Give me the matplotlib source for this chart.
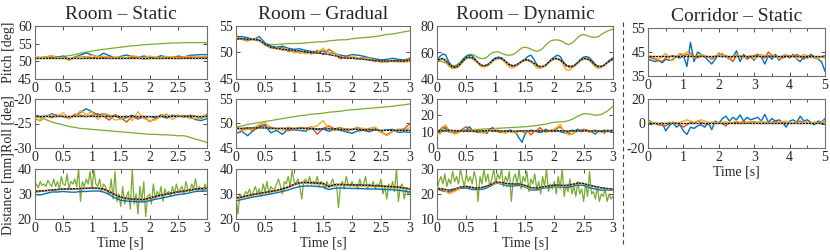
import matplotlib
matplotlib.use("Agg")
import matplotlib.pyplot as plt
from matplotlib.lines import Line2D
import numpy as np

plt.rcParams['font.family'] = ['Liberation Serif', 'DejaVu Serif']
plt.rcParams['font.size'] = 10
plt.rcParams['axes.unicode_minus'] = False

BLUE = '#0072BD'
RED = '#D95319'
ORANGE = '#EDB120'
GREEN = '#77AC30'

titles = ['Room – Static', 'Room – Gradual', 'Room – Dynamic', 'Corridor – Static']
ylabels = ['Pitch [deg]', 'Roll [deg]', 'Distance [mm]']

# ---------------- Room - Static ----------------
rs_pitch_truth = [51.0] * 31
rs_pitch_blue = [51.2, 51.0, 51.3, 51.5, 51.2, 51.5, 50.6, 51.2, 51.8, 52.4, 51.8, 51.3, 52.3, 51.6, 51.0, 51.4,
                 51.8, 51.3, 51.1, 51.5, 51.2, 51.0, 51.6, 51.2, 51.0, 51.5, 51.2, 51.7, 51.8, 51.9, 51.9]
rs_pitch_red = [51.0, 51.1, 51.0, 51.2, 51.1, 51.0, 50.5, 51.0, 51.4, 51.2, 51.0, 51.3, 51.1, 51.2, 51.0, 50.8,
                51.0, 51.2, 51.0, 50.7, 50.8, 51.0, 51.1, 50.9, 51.2, 51.3, 51.1, 51.0, 51.2, 51.0, 51.1]
rs_pitch_orange = [51.3, 51.1, 51.2, 51.6, 51.0, 51.2, 50.2, 51.0, 51.5, 51.0, 51.8, 51.2, 51.5, 51.0, 51.2, 51.2,
                   51.0, 51.6, 51.3, 51.0, 51.5, 51.2, 51.0, 51.4, 51.2, 51.0, 51.3, 51.4, 51.2, 51.3, 51.4]
rs_pitch_green = [51.0, 51.0, 51.1, 51.1, 51.2, 51.4, 51.6, 51.9, 52.3, 52.6, 52.9, 53.2, 53.4, 53.6, 53.8, 54.0,
                  54.2, 54.4, 54.5, 54.7, 54.8, 54.9, 55.0, 55.1, 55.2, 55.2, 55.3, 55.3, 55.3, 55.3, 55.2]

rs_roll_truth = [-23.4] * 31
rs_roll_blue = [-23.3, -23.6, -23.5, -23.0, -23.4, -23.6, -23.8, -23.4, -22.7, -22.0, -22.6, -23.3, -23.0, -23.6,
                -23.4, -24.0, -23.8, -23.3, -24.0, -23.7, -23.6, -23.8, -23.5, -23.9, -23.3, -23.5, -23.4, -23.6,
                -24.2, -24.4, -24.0]
rs_roll_red = [-24.0, -24.4, -23.4, -23.8, -23.3, -23.5, -24.0, -23.1, -23.3, -23.6, -23.3, -23.0, -23.5, -24.3,
               -23.2, -23.8, -24.7, -23.6, -24.1, -23.5, -24.6, -24.0, -23.2, -23.6, -23.5, -23.3, -23.7, -23.3,
               -23.5, -24.0, -23.2]
rs_roll_orange = [-23.8, -24.5, -23.5, -23.2, -23.6, -22.8, -24.0, -23.5, -22.4, -23.2, -22.6, -24.2, -23.0, -23.2,
                  -24.3, -24.1, -23.4, -24.4, -22.6, -24.0, -24.4, -24.3, -23.5, -23.0, -24.2, -23.4, -23.5, -24.0,
                  -24.0, -23.8, -23.0]
rs_roll_green = [-23.5, -23.8, -24.2, -24.7, -25.0, -25.3, -25.6, -25.8, -26.0, -26.1, -26.2, -26.3, -26.4, -26.5,
                 -26.6, -26.7, -26.8, -26.9, -27.0, -27.1, -27.2, -27.2, -27.3, -27.3, -27.4, -27.5, -27.5, -27.8,
                 -28.2, -28.5, -28.9]

rs_dist_truth = [31.0, 31.2, 31.4, 31.6, 31.8, 32.0, 32.0, 32.1, 32.2, 32.3, 32.4, 32.3, 32.0, 31.0, 29.8, 28.8,
                 28.3, 28.0, 27.9, 27.8, 28.4, 29.0, 29.6, 30.0, 30.5, 30.9, 31.2, 31.6, 32.0, 32.2, 32.3]
rs_dist_blue = [29.8, 29.6, 30.2, 30.8, 30.8, 31.0, 30.8, 30.7, 31.0, 31.0, 31.2, 31.2, 30.8, 29.8, 28.4, 27.5,
                27.2, 27.0, 26.9, 26.8, 27.3, 27.9, 28.3, 28.8, 29.3, 29.8, 30.0, 30.5, 31.0, 31.1, 31.2]
rs_dist_red = [30.7, 31.0, 31.3, 31.5, 31.7, 31.9, 31.9, 32.0, 32.1, 32.2, 32.3, 32.2, 31.8, 30.8, 29.6, 28.6,
               28.1, 27.8, 27.7, 27.6, 28.2, 28.8, 29.4, 29.8, 30.3, 30.7, 31.0, 31.4, 31.8, 32.0, 32.1]
rs_dist_orange = [31.2, 31.3, 31.2, 31.6, 31.9, 32.1, 31.8, 32.0, 32.3, 32.2, 32.5, 32.4, 32.1, 31.2, 29.9, 28.7,
                  28.4, 28.1, 28.0, 27.9, 28.5, 29.1, 29.7, 30.1, 30.6, 31.0, 31.3, 31.7, 32.1, 32.3, 32.4]
rs_dist_green = [33, 34, 32.5, 35, 33.5, 34, 33, 35.5, 34, 33,
                 36, 33, 35, 32, 37, 34, 33.5, 38, 32, 35,
                 34, 36, 33, 40, 27, 35, 33, 36, 34, 39,
                 32, 40, 34, 33, 36, 31, 34, 33, 31, 30,
                 36, 28, 39, 27, 30, 25, 33, 26, 29, 31,
                 24, 40, 26, 30, 22, 33, 27, 35, 21, 29,
                 30, 26, 34, 28, 31, 29, 33, 27, 32, 30,
                 31, 29, 33, 30, 34, 31, 32, 33, 30, 35,
                 32, 31, 34, 32, 36, 31, 33, 32, 31, 34, 32]

# ---------------- Room - Gradual ----------------
rg_pitch_truth = [52.6, 52.6, 52.5, 52.5, 52.3, 51.6, 51.0, 50.8, 50.6, 50.5, 50.4, 50.3, 50.1, 50.0, 49.9, 49.8,
                  49.6, 49.4, 49.1, 48.9, 48.9, 48.8, 48.7, 48.6, 48.5, 48.4, 48.4, 48.4, 48.4, 48.4, 48.5]
rg_pitch_blue = [53.0, 53.0, 52.8, 52.4, 53.0, 51.8, 51.2, 51.0, 51.2, 50.8, 50.6, 50.7, 50.4, 50.2, 50.1, 50.3,
                 50.0, 49.8, 49.5, 49.3, 49.6, 49.5, 49.3, 49.0, 48.8, 48.6, 48.7, 48.9, 48.7, 48.6, 48.8]
rg_pitch_red = [53.2, 52.5, 52.2, 52.6, 52.4, 51.4, 50.9, 50.7, 51.0, 50.2, 50.3, 49.9, 50.2, 49.7, 50.4, 49.6,
                50.6, 49.9, 48.8, 49.3, 49.0, 48.9, 49.0, 48.6, 48.3, 48.5, 48.2, 48.5, 48.5, 48.3, 49.0]
rg_pitch_orange = [52.8, 52.5, 52.4, 52.6, 52.2, 51.6, 50.8, 50.9, 50.4, 50.6, 49.9, 50.1, 49.8, 49.9, 50.0, 50.8,
                   49.9, 50.0, 49.2, 49.0, 49.4, 49.0, 48.8, 48.9, 48.5, 48.1, 48.3, 48.3, 48.2, 48.2, 48.3]
rg_pitch_green = [52.5, 52.5, 52.5, 52.4, 52.2, 51.6, 51.5, 51.5, 51.6, 51.7, 51.7, 51.7, 51.8, 51.9, 52.0, 52.0,
                  52.2, 52.3, 52.4, 52.4, 52.6, 52.7, 52.8, 52.9, 53.0, 53.2, 53.4, 53.5, 53.7, 53.9, 54.1]

rg_roll_truth = [49.0, 49.0, 49.1, 49.1, 49.1, 49.1, 49.0, 49.0, 49.0, 49.0, 49.0, 49.0, 49.0, 48.9, 48.9, 48.9,
                 48.9, 48.9, 48.8, 48.8, 48.8, 48.8, 48.7, 48.7, 48.7, 48.6, 48.6, 48.6, 48.6, 48.6, 48.6]
rg_roll_blue = [48.0, 48.4, 47.5, 48.6, 49.3, 49.6, 48.1, 48.6, 47.8, 48.9, 48.7, 48.6, 48.4, 49.2, 48.7, 48.9,
                48.4, 48.8, 48.6, 48.3, 48.0, 48.5, 48.6, 48.3, 48.8, 48.4, 48.7, 48.8, 48.2, 48.3, 48.2]
rg_roll_red = [49.2, 48.8, 49.0, 48.5, 49.5, 49.8, 49.2, 48.9, 49.0, 48.5, 48.8, 49.2, 49.0, 49.3, 47.8, 49.0,
               49.5, 48.9, 49.2, 48.4, 48.8, 49.2, 48.6, 49.0, 49.1, 48.2, 47.7, 48.4, 48.7, 48.9, 50.0]
rg_roll_orange = [49.1, 48.5, 48.8, 49.0, 49.8, 50.2, 48.8, 49.0, 48.6, 49.3, 48.9, 49.1, 48.7, 49.2, 49.5, 50.6,
                  49.0, 48.5, 49.1, 48.9, 48.6, 49.1, 49.0, 48.8, 49.3, 48.2, 47.5, 48.3, 48.9, 48.6, 49.2]
rg_roll_green = [49.3, 49.5, 49.8, 50.0, 50.2, 50.4, 50.6, 50.8, 51.0, 51.2, 51.4, 51.6, 51.7, 51.9, 52.0, 52.1,
                 52.3, 52.4, 52.5, 52.7, 52.8, 52.9, 53.0, 53.1, 53.2, 53.3, 53.4, 53.5, 53.7, 53.8, 54.0]

rg_dist_truth = [28.3, 28.8, 29.3, 29.8, 30.2, 30.6, 31.0, 31.4, 32.0, 32.8, 33.8, 34.5, 34.6, 34.5, 34.3, 34.2,
                 33.0, 33.8, 33.8, 33.7, 33.6, 33.6, 33.5, 33.4, 33.3, 33.2, 33.0, 32.9, 32.7, 32.4, 32.0]
rg_dist_blue = [27.2, 27.8, 28.3, 28.8, 29.2, 29.6, 30.0, 30.5, 31.0, 31.6, 32.4, 33.0, 33.2, 33.2, 33.0, 32.8,
                31.8, 32.3, 32.4, 32.3, 32.2, 32.2, 32.1, 32.0, 32.0, 31.9, 31.8, 31.7, 31.5, 31.2, 30.8]
rg_dist_red = [28.5, 28.9, 29.4, 29.9, 30.3, 30.7, 31.1, 31.5, 32.1, 32.9, 33.9, 34.6, 34.7, 34.6, 34.4, 34.3,
               32.8, 33.7, 33.9, 33.8, 33.7, 33.7, 33.6, 33.5, 33.4, 33.3, 33.1, 33.0, 32.8, 32.5, 32.1]
rg_dist_orange = [28.0, 28.5, 29.0, 29.5, 29.9, 30.3, 30.7, 31.1, 31.7, 32.5, 33.5, 34.2, 34.3, 34.2, 34.0, 33.9,
                  32.7, 33.5, 33.5, 33.4, 33.3, 33.3, 33.2, 33.1, 33.0, 32.9, 32.7, 32.6, 32.4, 32.1, 31.7]
rg_dist_green = [28, 22, 30, 28.5, 29, 31, 30, 32, 29, 31,
                 33, 30, 32, 29, 34, 31, 35, 30, 33, 32,
                 32, 34, 36, 33, 30, 35, 34, 37, 33, 39.5,
                 35, 34, 36, 33, 28, 35, 36, 34, 37, 34,
                 35, 34, 37, 33, 35, 34, 32, 35, 33, 34,
                 36, 33, 34, 24.5, 33, 35, 32, 37, 34, 33,
                 35, 33, 34, 32, 36, 33, 34, 37, 32, 34,
                 33, 35, 32, 34, 33, 36, 30, 33, 28, 34,
                 32, 35, 31, 40, 27, 33, 34, 28, 32, 30, 31]

# ---------------- Room - Dynamic ----------------
rd_pitch_truth = [54, 55, 55.5, 54, 51.5, 49.5, 49, 49.5, 51.5, 54, 56, 56.5, 56, 54.5, 52.5, 50.5, 50, 50.5, 52, 54,
                  55.5, 56, 55.5, 54, 52, 50.5, 50, 50.5, 52, 53.5, 54.5, 54.5, 53.5, 52, 50.5, 49.5, 49.5, 50.5,
                  52.5, 54.5, 55.5, 55.5, 54.5, 52.5, 50.5, 49.5, 49.5, 50.5, 52.5, 54.5, 55.5, 55.5, 54.5, 52.5,
                  50.5, 49.5, 49.5, 50.5, 52.5, 54, 55]
rd_pitch_blue = [55, 57, 59, 58, 53, 50, 49, 50, 52, 55, 57, 58, 57.5, 55, 52, 50.5, 50, 50.5, 52, 54.5,
                 56, 56.5, 56, 54, 52, 50.5, 50, 50.5, 52, 53.5, 55, 57, 58, 55, 51, 49, 49, 50, 52.5, 55,
                 56.5, 58, 57, 53, 50.5, 49.5, 49.5, 50.5, 52.5, 55, 56.5, 57, 56, 53.5, 51, 49.5, 49.5, 50.5,
                 52.5, 54.5, 56]
rd_pitch_red = [53.5, 54.5, 55, 53.5, 50, 48.5, 48.5, 49, 51, 53.5, 55.5, 56, 55.5, 54, 52, 50, 49.5, 50, 51.5, 53.5,
                55, 55.5, 55, 53.5, 51.5, 50, 49.5, 50, 51.5, 53, 54, 54, 53, 51.5, 50, 49, 49, 50, 52, 54,
                55, 55, 54, 52, 50, 49, 49, 50, 52, 54, 55, 55, 54, 52, 50, 49, 49, 50, 52, 53.5, 54.5]
rd_pitch_orange = [54, 55, 55, 53, 50, 48, 48, 48.5, 50.5, 53.5, 55.5, 56.5, 56, 54, 51.5, 49.5, 49, 49.5, 51, 53.5,
                   55, 56, 55, 53, 50.5, 48.5, 48.5, 49.5, 51.5, 53.5, 54.5, 54.5, 53, 51, 48.5, 48, 48.5, 50, 52,
                   54, 55, 55.5, 54, 51, 47, 46.5, 48, 50, 52, 54, 55, 55.5, 54, 51.5, 49, 48, 48.5, 50, 52, 54, 55]
rd_pitch_green = [53, 53.5, 53, 52, 51, 50, 50, 51, 53, 55.5, 57.5, 58.5, 58.5, 57.5, 56, 55.5, 55.5, 56.5, 58.5, 60,
                  60.5, 60.5, 59.5, 58.5, 58, 58, 58.5, 60, 62, 63.5, 64, 63.5, 62.5, 61.5, 61, 61.5, 63, 65.5, 67.5,
                  69, 69.5, 69.5, 69, 68, 66.5, 66, 67, 69, 71.5, 73, 73.5, 73, 72, 71.5, 71.5, 72, 73.5, 75, 76,
                  77, 77.5]

rd_roll_truth = [10.5, 10.6, 10.8, 10.7, 10.5, 10.3, 10.2, 10.4, 10.6, 10.7, 10.5, 10.4, 10.3, 10.2, 10.4, 10.6,
                 10.5, 10.4, 10.3, 10.5, 10.7, 10.6, 10.4, 10.3, 10.5, 10.6, 10.5, 10.4, 10.3, 10.4, 10.5]
rd_roll_blue = [10, 11, 13, 12, 10, 9.5, 9.5, 10, 10.5, 10, 11, 13, 11, 10, 9.5, 9.5, 10, 9, 11.5, 12.5,
                10.5, 10, 9.5, 10, 10.5, 11, 10, 9, 6, 3.5, 8.5, 10, 11, 10.5, 10, 9.5, 10, 11.5, 10.5, 11,
                10, 10.5, 10, 9.5, 9, 10, 11, 10.5, 11.5, 10, 10.5, 11, 10, 9.5, 8.5, 10.5, 10, 11, 10, 10.5, 11]
rd_roll_red = [10.5, 10, 11, 13, 11, 10, 9.5, 10, 10.5, 12, 13, 11, 10, 10.5, 10, 9.5, 10, 10.5, 11, 10,
               10.5, 10, 9.5, 10, 10.5, 10, 9.5, 10, 10.5, 10, 9.5, 10, 8, 10, 10.5, 12.5, 11, 10, 10.5, 10,
               10.5, 12, 13, 11, 10, 9, 8.5, 9.5, 10.5, 11, 11.5, 11, 10, 10.5, 11, 10, 10.5, 9, 11, 10.5, 11]
rd_roll_orange = [9, 8.5, 13, 14, 11, 9.5, 8.5, 9, 10, 10.5, 10, 10, 11, 11.5, 10, 9.5, 9, 10, 11, 11,
                  12, 10.5, 10, 9, 9.5, 10, 9.5, 9, 10, 10.5, 10, 9.5, 10, 10.5, 10, 11, 10.5, 9.5, 10, 11,
                  11.5, 13, 14.5, 11, 9, 8, 8.5, 9.5, 10.5, 10.5, 11, 10.5, 9.5, 10, 10.5, 10, 9.5, 10, 10.5, 10, 10.5]
rd_roll_green = [10.0, 10.0, 10.3, 10.6, 10.8, 11.0, 11.2, 11.4, 11.6, 11.8, 12.0, 12.2, 12.4, 12.6, 12.8, 13.0,
                 13.4, 13.8, 14.3, 15.0, 15.8, 16.0, 16.3, 17.5, 19.5, 21.0, 20.8, 20.0, 20.5, 22.5, 25.5]

rd_dist_truth = [22.2, 22.0, 21.6, 22.0, 22.8, 23.0, 22.6, 22.4, 22.8, 23.6, 24.8, 24.6, 24.2, 24.0, 24.0, 23.5,
                 22.6, 22.4, 22.8, 23.2, 23.6, 23.5, 23.4, 23.8, 24.4, 24.2, 23.5, 23.0, 22.5, 22.2, 22.0]
rd_dist_blue = [22.0, 21.2, 21.0, 21.5, 22.3, 22.4, 21.8, 21.8, 22.0, 23.0, 24.4, 24.0, 23.2, 23.2, 23.4, 22.8,
                21.6, 21.6, 22.3, 22.6, 23.0, 22.8, 22.6, 23.0, 23.6, 23.4, 22.5, 22.0, 21.5, 21.6, 21.5]
rd_dist_red = [22.0, 21.6, 20.6, 21.4, 22.5, 22.9, 22.6, 22.1, 22.7, 23.5, 24.6, 24.4, 24.1, 23.9, 23.9, 23.3,
               22.3, 22.2, 22.7, 23.1, 23.5, 23.3, 23.2, 23.7, 24.3, 24.1, 23.4, 22.9, 22.4, 22.1, 21.9]
rd_dist_orange = [22.6, 22.0, 20.2, 21.0, 22.6, 23.2, 22.8, 22.2, 22.6, 23.4, 24.5, 24.3, 24.0, 23.8, 23.8, 23.2,
                  22.0, 22.3, 22.6, 23.0, 23.4, 23.2, 23.2, 23.6, 24.2, 24.0, 23.3, 22.8, 22.3, 22.0, 21.8]
rd_dist_green = [22, 25, 27, 24, 28, 23, 26, 24, 29, 25,
                 27, 24, 30, 26, 23, 28, 25, 27, 24, 29,
                 26, 17, 27, 24, 30, 25, 28, 23, 26, 30,
                 24, 28, 26, 30, 23, 27, 25, 29, 17, 26,
                 28, 24, 30, 22, 27, 25, 29, 21, 26, 24,
                 28, 22, 25, 20, 27, 23, 30, 21, 24, 22,
                 25, 20, 27, 22, 30, 19, 24, 21, 26, 20,
                 23, 19, 25, 20, 22, 17, 24, 19, 29, 20,
                 21, 18, 23, 17, 20, 19, 22, 17, 20, 18, 19]

# ---------------- Corridor - Static ----------------
cs_pitch_truth = [43.5] * 51
cs_pitch_blue = [42, 41.5, 41, 41.5, 40.5, 42, 41.5, 42, 43, 42.5, 43.5, 39, 49, 41, 45, 44, 43, 41.5, 40, 42,
                 44.5, 44, 43, 42, 43, 45.5, 41, 44, 42.5, 43, 41.5, 44, 43, 40, 43.5, 42, 44, 41.5, 43, 44,
                 42.5, 44, 42, 41, 43, 42.5, 44, 43, 42, 41, 37]
cs_pitch_red = [43, 42.5, 42, 41.5, 41, 42.5, 43, 43.5, 43, 44, 43.5, 44, 44.5, 43, 42.5, 43.5, 43, 43, 42, 43,
                43.5, 43, 43.5, 42.5, 41, 43.5, 43, 43.5, 42, 43, 43.5, 44, 43, 42.5, 45, 43.5, 43, 43, 42.5, 43,
                43.5, 43, 44, 43, 42, 43.5, 43, 42.5, 43, 43, 43.5]
cs_pitch_orange = [44, 43, 42.5, 42, 43, 44.5, 42, 41.5, 43, 44.5, 44, 45, 43.5, 42.5, 43.5, 44, 43.5, 43, 42.5, 43.5,
                   44, 44.5, 43, 42, 43, 44, 43.5, 42.5, 43, 43.5, 42, 43, 44, 43.5, 43, 44, 43, 42, 43.5, 44,
                   43, 43.5, 42, 43, 44, 43.5, 42.5, 43, 42, 43, 42.5]

cs_roll_truth = [0.5] * 51
cs_roll_blue = [3, 1, 0, -1, 0.5, -6, -2, 1, -3, -1, -6, -9, -3, -4, -2, -1, -3, 1, -5, 2,
                0, 4, 6, 2, 5, 3, 7, 2, 5, 3, 4, 5, 2, 7.5, 1, 4, 2, 3, 1, -3,
                2, 3, 1, 6, 2, 3, 1, -1, 2, 1, 4]
cs_roll_red = [1, 0, 0.5, -1, -1.5, -2, 0, 1, 0.5, -1, -3, -1, 1, 0, 2, 1, 0, -1, 1, 0.5,
               1, 0, -2, 1, 0.5, 1, 0, 2, 0.5, 1, 1.5, 0.5, 0, 1, 0.5, 1, 2, 0.5, 1, 0,
               1, 0.5, 1, 2, 0.5, 1, 0, 1, 0.5, 1, 2]
cs_roll_orange = [2, 1, 0.5, 0, -0.5, 0, 1, 0.5, 0, 1, 2, 3, 2, 1, 2, 3, 2, 1, 0.5, 1,
                  0.5, 1, 1.5, 0.5, 1, 2, 1, 0.5, 1, 1.5, 0.5, 1, 2, 1, 0.5, 1, 0.5, 1, 1.5, 2,
                  1, 0.5, 1, 0, 0.5, 1, 0.5, 1, 0.5, 1, 2.5]

panels = {
    (0, 0): (rs_pitch_green, rs_pitch_blue, rs_pitch_red, rs_pitch_orange, rs_pitch_truth),
    (1, 0): (rs_roll_green, rs_roll_blue, rs_roll_red, rs_roll_orange, rs_roll_truth),
    (2, 0): (rs_dist_green, rs_dist_blue, rs_dist_red, rs_dist_orange, rs_dist_truth),
    (0, 1): (rg_pitch_green, rg_pitch_blue, rg_pitch_red, rg_pitch_orange, rg_pitch_truth),
    (1, 1): (rg_roll_green, rg_roll_blue, rg_roll_red, rg_roll_orange, rg_roll_truth),
    (2, 1): (rg_dist_green, rg_dist_blue, rg_dist_red, rg_dist_orange, rg_dist_truth),
    (0, 2): (rd_pitch_green, rd_pitch_blue, rd_pitch_red, rd_pitch_orange, rd_pitch_truth),
    (1, 2): (rd_roll_green, rd_roll_blue, rd_roll_red, rd_roll_orange, rd_roll_truth),
    (2, 2): (rd_dist_green, rd_dist_blue, rd_dist_red, rd_dist_orange, rd_dist_truth),
    (0, 3): (None, cs_pitch_blue, cs_pitch_red, cs_pitch_orange, cs_pitch_truth),
    (1, 3): (None, cs_roll_blue, cs_roll_red, cs_roll_orange, cs_roll_truth),
}

yticks = {
    (0, 0): [45, 50, 55, 60], (1, 0): [-30, -25, -20], (2, 0): [20, 30, 40],
    (0, 1): [45, 50, 55], (1, 1): [45, 50, 55], (2, 1): [20, 30, 40],
    (0, 2): [40, 60, 80], (1, 2): [0, 10, 20, 30], (2, 2): [10, 20, 30],
    (0, 3): [35, 45, 55], (1, 3): [-20, 0, 20],
}

W, H = 830, 252
col_x = [(34.5, 207), (236, 410), (437, 613), (648, 825)]
row_y = [(26, 79), (99, 148), (169, 219)]
row_y_corr = [(28, 76), (99, 148)]

fig = plt.figure(figsize=(W / 100, H / 100), dpi=100)

for (r, c), series in panels.items():
    x0, x1 = col_x[c]
    y0, y1 = (row_y_corr if c == 3 else row_y)[r]
    ax = fig.add_axes([x0 / W, 1 - y1 / H, (x1 - x0) / W, (y1 - y0) / H])
    T = 5 if c == 3 else 3
    green, blue, red, orange, truth = series
    for vals, col, lw, z in [(green, GREEN, 0.9, 1), (blue, BLUE, 1.0, 2), (red, RED, 1.0, 3),
                             (orange, ORANGE, 1.0, 4)]:
        if vals is None:
            continue
        ax.plot(np.linspace(0, T, len(vals)), vals, color=col, lw=lw, zorder=z)
    tt = np.linspace(0, T, len(truth))
    ax.plot(tt, truth, color='k', lw=0.9, zorder=5)
    ax.plot(tt, truth, color='#bbbbbb', lw=0.9, ls=(0, (1, 1.5)), zorder=6)

    ax.set_xlim(0, T)
    yt = yticks[(r, c)]
    ax.set_ylim(yt[0], yt[-1])
    ax.set_yticks(yt)
    if c == 3:
        ax.set_xticks(np.arange(0, 5.01, 1))
        ax.set_xticks(np.arange(0, 5.01, 0.5), minor=True)
    else:
        ax.set_xticks([0, 0.5, 1, 1.5, 2, 2.5, 3])
        ax.set_xticklabels(['0', '0.5', '1', '1.5', '2', '2.5', '3'])
    ax.tick_params(direction='in', top=True, right=True, length=3, width=0.6, pad=2,
                   labelsize=10, colors='#333333', labelcolor='#262626', which='major')
    ax.tick_params(direction='in', top=True, right=True, length=2, width=0.6, which='minor',
                   colors='#333333')
    for s in ax.spines.values():
        s.set_color('#6e6e6e')
        s.set_linewidth(0.8)
    if c == 0:
        ax.set_ylabel(ylabels[r], fontsize=10, color='#262626')
        # keep all three y labels on the same column, like the reference
        ax.yaxis.set_label_coords((8.5 - x0) / (x1 - x0), 0.5)
        ax.yaxis.label.set_verticalalignment('center')
    if (c < 3 and r == 2) or (c == 3 and r == 1):
        ax.set_xlabel('Time [s]', fontsize=10, labelpad=1, color='#262626')
    if r == 0:
        ax.set_title(titles[c], fontsize=14, pad=5, color='#262626')

fig.add_artist(Line2D([623 / W, 623 / W], [1 - 22 / H, 1 - 244 / H], color='#444444', lw=0.8,
                      ls=(0, (4, 3))))

fig.savefig('out.png', dpi=100)
